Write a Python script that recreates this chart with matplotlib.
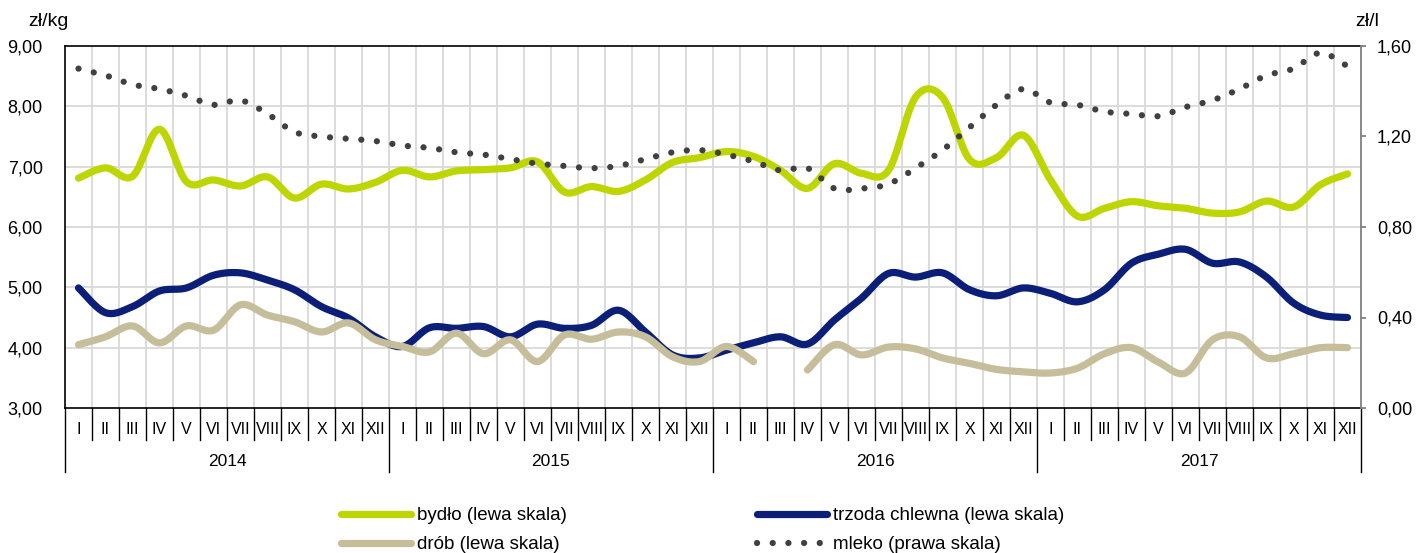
import numpy as np
import matplotlib.pyplot as plt
from matplotlib import transforms

plt.rcParams['font.family'] = ['Liberation Sans', 'DejaVu Sans']

months = ['I', 'II', 'III', 'IV', 'V', 'VI', 'VII', 'VIII', 'IX', 'X', 'XI', 'XII']
years = ['2014', '2015', '2016', '2017']

# ceny, zł/kg (lewa skala)
bydlo = [6.81, 6.98, 6.84, 7.62, 6.75, 6.78, 6.68, 6.83, 6.48, 6.71, 6.63, 6.74,
         6.94, 6.83, 6.93, 6.95, 6.98, 7.08, 6.58, 6.67, 6.59, 6.78, 7.07, 7.15,
         7.25, 7.17, 6.94, 6.64, 7.05, 6.89, 6.94, 8.15, 8.15, 7.12, 7.15, 7.52,
         6.78, 6.18, 6.31, 6.42, 6.35, 6.31, 6.23, 6.25, 6.43, 6.33, 6.70, 6.88]
trzoda = [4.99, 4.58, 4.68, 4.94, 4.99, 5.20, 5.24, 5.12, 4.96, 4.68, 4.49, 4.18,
          4.02, 4.33, 4.32, 4.35, 4.18, 4.39, 4.32, 4.37, 4.62, 4.26, 3.88, 3.83,
          3.96, 4.08, 4.18, 4.06, 4.46, 4.82, 5.23, 5.17, 5.24, 4.96, 4.86, 4.99,
          4.90, 4.76, 4.96, 5.40, 5.55, 5.63, 5.40, 5.42, 5.17, 4.74, 4.54, 4.50]
drob = [4.05, 4.18, 4.36, 4.08, 4.36, 4.29, 4.71, 4.54, 4.43, 4.26, 4.41, 4.13,
        4.02, 3.93, 4.24, 3.90, 4.13, 3.77, 4.21, 4.14, 4.26, 4.18, 3.85, 3.77,
        4.02, 3.77, None, 3.63, 4.05, 3.88, 4.01, 3.98, 3.83, 3.74, 3.64, 3.60,
        3.58, 3.66, 3.90, 4.00, 3.76, 3.58, 4.13, 4.18, 3.83, 3.90, 4.00, 4.00]
# zł/l (prawa skala)
mleko = [1.50, 1.47, 1.43, 1.41, 1.38, 1.34, 1.36, 1.30, 1.22, 1.20, 1.19, 1.18,
         1.16, 1.15, 1.13, 1.12, 1.10, 1.08, 1.07, 1.06, 1.07, 1.10, 1.13, 1.14,
         1.12, 1.09, 1.05, 1.06, 0.97, 0.97, 0.99, 1.06, 1.14, 1.24, 1.34, 1.41,
         1.35, 1.34, 1.31, 1.30, 1.29, 1.33, 1.36, 1.41, 1.47, 1.50, 1.57, 1.51]


def smooth(vals, n=16):
    """Catmull-Rom przez punkty (jak wygladzanie w Excelu); None = przerwa."""
    out = []
    seg = []
    for i, v in enumerate(vals + [None]):
        if v is None:
            if seg:
                out.append(seg)
            seg = []
        else:
            seg.append((i, v))
    res = []
    for seg in out:
        x = np.array([s[0] for s in seg], float)
        y = np.array([s[1] for s in seg], float)
        if len(x) < 2:
            continue
        xp = np.r_[x[0], x, x[-1]]
        yp = np.r_[y[0], y, y[-1]]
        xs, ys = [], []
        t = np.linspace(0, 1, n, endpoint=False)
        for k in range(1, len(xp) - 2):
            for arr, dst in ((xp, xs), (yp, ys)):
                p0, p1, p2, p3 = arr[k - 1], arr[k], arr[k + 1], arr[k + 2]
                dst.extend(0.5 * (2 * p1 + (-p0 + p2) * t
                                  + (2 * p0 - 5 * p1 + 4 * p2 - p3) * t ** 2
                                  + (-p0 + 3 * p1 - 3 * p2 + p3) * t ** 3))
        xs.append(x[-1])
        ys.append(y[-1])
        res.append((np.array(xs), np.array(ys)))
    return res


def comma(v, p):
    return ('%.2f' % v).replace('.', ',')


W, H = 1418, 553
fig = plt.figure(figsize=(W / 100, H / 100), dpi=100)
ax = fig.add_axes([65 / W, 145 / H, 1296 / W, 362 / H])
n = len(bydlo)

c_bydlo = '#BDD600'
c_trzoda = '#0B1F78'
c_drob = '#C6BE9B'
c_mleko = '#404040'
lw = 5.2

for xs, ys in smooth(bydlo):
    ax.plot(xs, ys, color=c_bydlo, lw=lw, solid_capstyle='round', zorder=3)
for xs, ys in smooth(trzoda):
    ax.plot(xs, ys, color=c_trzoda, lw=lw, solid_capstyle='round', zorder=4)
for xs, ys in smooth(drob):
    ax.plot(xs, ys, color=c_drob, lw=lw, solid_capstyle='round', zorder=5)

ax.set_xlim(-0.5, n - 0.5)
ax.set_ylim(3, 9)
ax.set_yticks(np.arange(3, 9.01, 1))
ax.yaxis.set_major_formatter(plt.FuncFormatter(comma))
ax.tick_params(axis='y', length=0, pad=16, labelsize=13)
ax.set_xticks([])
for v in range(4, 9):
    ax.axhline(v, color='#D9D9D9', lw=1.3, zorder=1)
for b in range(1, n):
    ax.axvline(b - 0.5, color='#D9D9D9', lw=1.3, zorder=1)
for s in ['left', 'top', 'bottom']:
    ax.spines[s].set_color('black')
    ax.spines[s].set_linewidth(1.2)
ax.spines['right'].set_visible(False)

# prawa skala
ax2 = ax.twinx()
for xs, ys in smooth(mleko):
    ax2.plot(xs, ys, color=c_mleko, lw=4.5, linestyle=(0, (0.01, 2.5)),
             dash_capstyle='round', zorder=6)
ax2.set_ylim(0, 1.6)
ax2.set_yticks(np.arange(0, 1.61, 0.4))
ax2.yaxis.set_major_formatter(plt.FuncFormatter(comma))
ax2.tick_params(axis='y', length=3.5, width=1.3, color='#808080', pad=8, labelsize=13)
ax2.spines['right'].set_color('#808080')
ax2.spines['right'].set_linewidth(1.3)
for s in ['left', 'top', 'bottom']:
    ax2.spines[s].set_visible(False)

fig.text(48.5 / W, 1 - 22 / H, 'zł/kg', ha='center', va='center', fontsize=14)
fig.text(1367 / W, 1 - 22 / H, 'zł/l', ha='center', va='center', fontsize=14)

# os X: miesiace i lata
tr = transforms.blended_transform_factory(ax.transData, ax.transAxes)
mh = 32 / 362
yh = 64 / 362
for b in range(n + 1):
    ax.plot([b - 0.5, b - 0.5], [0, -yh if b % 12 == 0 else -mh], color='black',
            lw=1.0, transform=tr, clip_on=False)
for i in range(n):
    ax.text(i, -22 / 362, months[i % 12], transform=tr, ha='center', va='center',
            fontsize=11.5)
for k, yr in enumerate(years):
    ax.text(k * 12 + 5.5, -53 / 362, yr, transform=tr, ha='center', va='center',
            fontsize=12.5)

# legenda
h_b = plt.Line2D([], [], color=c_bydlo, lw=lw, solid_capstyle='round')
h_d = plt.Line2D([], [], color=c_drob, lw=lw, solid_capstyle='round')
h_t = plt.Line2D([], [], color=c_trzoda, lw=lw, solid_capstyle='round')
h_m = plt.Line2D([], [], color=c_mleko, lw=4.5, linestyle=(0, (0.01, 2.5)),
                 dash_capstyle='round')
kw = dict(frameon=False, loc='upper left', handlelength=3.75, handletextpad=0.3,
          labelspacing=0.64, borderpad=0, borderaxespad=0, fontsize=13.5)
fig.legend([h_b, h_d], ['bydło (lewa skala)', 'drób (lewa skala)'],
           bbox_to_anchor=(341 / W, 1 - 507 / H), **kw)
fig.legend([h_t, h_m], ['trzoda chlewna (lewa skala)', 'mleko (prawa skala)'],
           bbox_to_anchor=(757 / W, 1 - 507 / H), **kw)

fig.savefig('out.png', dpi=100)
